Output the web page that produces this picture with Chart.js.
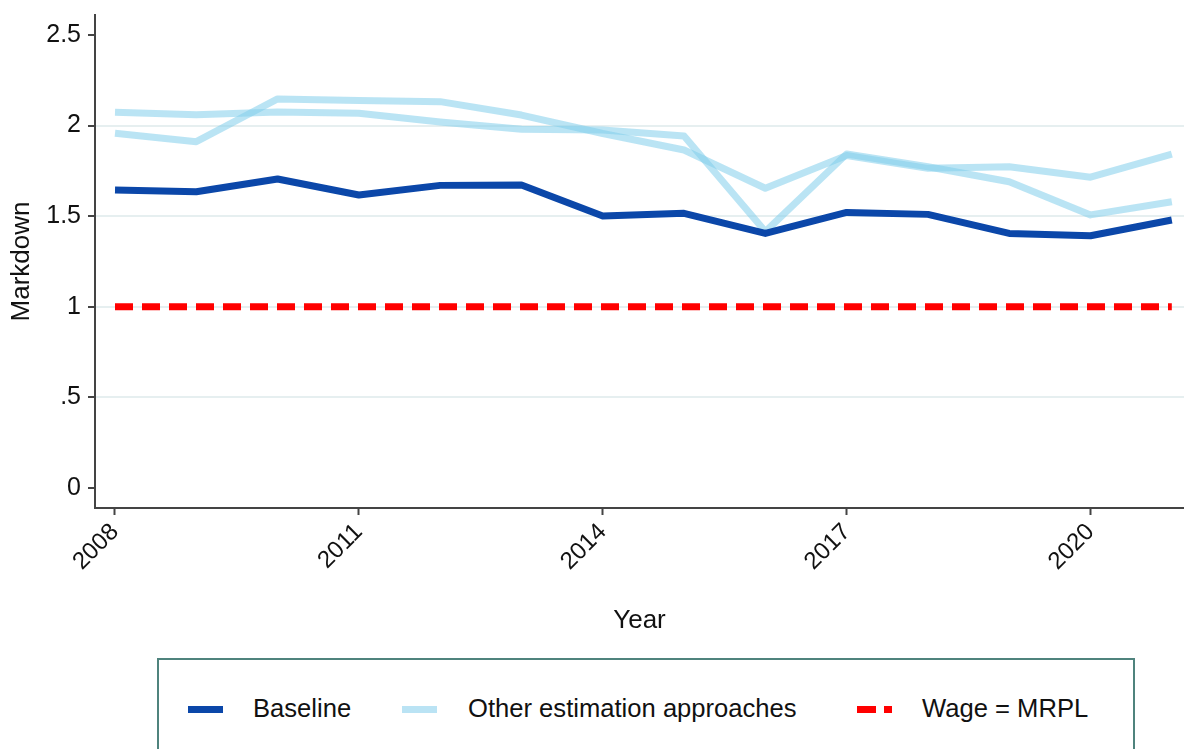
<!DOCTYPE html>
<html>
<head>
<meta charset="utf-8">
<title>Markdown by year</title>
<script src="https://cdn.jsdelivr.net/npm/chart.js@4.4.1/dist/chart.umd.min.js"></script>
<style>
  html, body { margin: 0; padding: 0; background: #fff; }
  body { width: 1184px; height: 749px; position: relative; overflow: hidden;
         font-family: "Liberation Sans", Arial, sans-serif; color: #111; }
  #wrap { position: absolute; left: 0; top: 0; width: 1184px; height: 640px; }
  .legend-box { position: absolute; left: 157px; top: 658px; width: 978px; height: 120px;
                box-sizing: border-box; border: 2px solid #4f837d; }
  .swatch { position: absolute; top: 706px; width: 35px; height: 7px; }
  .label { position: absolute; top: 693px; font-size: 25.6px; line-height: 30px; white-space: nowrap; }
</style>
</head>
<body>
<div id="wrap"><canvas id="markdownChart" width="1184" height="640"></canvas></div>

<div class="legend-box"></div>
<div class="swatch" style="left:188px; background:#0b47a9;"></div>
<div class="label" style="left:253px;">Baseline</div>
<div class="swatch" style="left:402px; background:#bae3f4;"></div>
<div class="label" style="left:468px;">Other estimation approaches</div>
<div class="swatch" style="left:857px; background:repeating-linear-gradient(90deg,#ff0000 0 19px,transparent 19px 27px);"></div>
<div class="label" style="left:922px;">Wage = MRPL</div>

<script>
// Data
const years = [2008, 2009, 2010, 2011, 2012, 2013, 2014, 2015, 2016, 2017, 2018, 2019, 2020, 2021];
const baseline = [1.645, 1.635, 1.705, 1.617, 1.670, 1.672, 1.501, 1.516, 1.405, 1.521, 1.510, 1.405, 1.392, 1.479];
const otherA = [2.073, 2.060, 2.075, 2.068, 2.020, 1.980, 1.976, 1.943, 1.415, 1.843, 1.773, 1.690, 1.507, 1.580];
const otherB = [1.957, 1.911, 2.147, 2.138, 2.132, 2.058, 1.956, 1.865, 1.654, 1.835, 1.764, 1.773, 1.715, 1.842];
const wageLine = [1, 1, 1, 1, 1, 1, 1, 1, 1, 1, 1, 1, 1, 1];

const xTicks = [2008, 2011, 2014, 2017, 2020];
const yTicks = [0, 0.5, 1, 1.5, 2, 2.5];

const FONT = '"Liberation Sans", Arial, sans-serif';
const AXIS = '#444';

function toPoints(values) {
    return years.map((y, i) => ({ x: y, y: values[i] }));
}

// Stata style labels: .5 instead of 0.5
function yLabel(v) {
    if (v === 0) return '0';
    return String(v).replace(/^0\./, '.');
}

function lineSet(label, values, color, extra) {
    return Object.assign({
        label: label,
        data: toPoints(values),
        borderColor: color,
        borderWidth: 7,
        pointRadius: 0,
        tension: 0,
        fill: false,
        borderJoinStyle: 'round'
    }, extra || {});
}

new Chart(document.getElementById('markdownChart'), {
    type: 'line',
    data: {
        datasets: [
            lineSet('Wage = MRPL', wageLine, '#ff0000', { borderDash: [18, 9], borderJoinStyle: 'miter' }),
            lineSet('Baseline', baseline, '#0b47a9'),
            lineSet('Other estimation approaches', otherA, 'rgba(130, 205, 235, 0.55)'),
            lineSet('Other estimation approaches', otherB, 'rgba(130, 205, 235, 0.55)')
        ]
    },
    options: {
        responsive: false,
        animation: false,
        layout: { padding: { top: 15, right: 0, left: 0, bottom: 0 } },
        plugins: {
            legend: { display: false },
            tooltip: { enabled: false }
        },
        scales: {
            x: {
                type: 'linear',
                min: 2007.754,
                max: 2021.15,
                afterBuildTicks: function(scale) {
                    scale.ticks = xTicks.map(v => ({ value: v }));
                },
                afterFit: function(scale) {
                    scale.height = 132;
                },
                ticks: {
                    autoSkip: false,
                    minRotation: 45,
                    maxRotation: 45,
                    padding: 3,
                    color: '#111',
                    font: { family: FONT, size: 24 },
                    callback: v => String(v)
                },
                grid: {
                    drawOnChartArea: false,
                    tickLength: 7,
                    tickWidth: 2,
                    tickColor: AXIS
                },
                border: { color: AXIS, width: 2 },
                title: {
                    display: true,
                    text: 'Year',
                    color: '#111',
                    font: { family: FONT, size: 26 },
                    padding: { top: 4, bottom: 4 }
                }
            },
            y: {
                type: 'linear',
                min: -0.11,
                max: 2.61,
                afterBuildTicks: function(scale) {
                    scale.ticks = yTicks.map(v => ({ value: v }));
                },
                afterFit: function(scale) {
                    scale.width = 95;
                    // the top label sits well inside the axis, no extra room needed
                    scale.paddingTop = 0;
                    scale.paddingBottom = 0;
                },
                ticks: {
                    padding: 7,
                    color: '#111',
                    font: { family: FONT, size: 25 },
                    callback: v => yLabel(v)
                },
                grid: {
                    lineWidth: 2,
                    color: function(ctx) {
                        const v = ctx.tick && ctx.tick.value;
                        return (v > 0 && v < 2.5) ? '#e6eff0' : 'rgba(0,0,0,0)';
                    },
                    tickLength: 7,
                    tickWidth: 2,
                    tickColor: AXIS
                },
                border: { color: AXIS, width: 2 },
                title: {
                    display: true,
                    text: 'Markdown',
                    color: '#111',
                    font: { family: FONT, size: 26 },
                    padding: { top: 6, bottom: 6 }
                }
            }
        }
    }
});
</script>
</body>
</html>
